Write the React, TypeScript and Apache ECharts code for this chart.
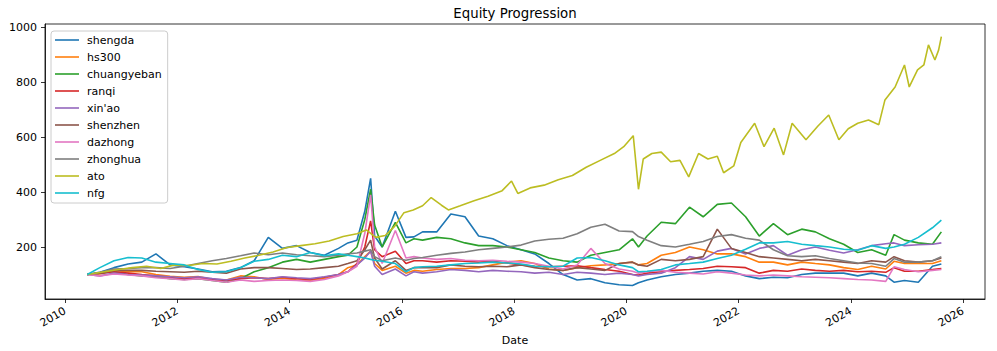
import React, { useEffect, useRef } from 'react';
import * as echarts from 'echarts';

const dates = ['2010-05-25','2010-08-15','2010-11-15','2011-02-15','2011-05-15','2011-08-15','2011-11-15','2012-02-15','2012-05-15','2012-08-15','2012-11-15','2013-02-15','2013-05-15','2013-08-15','2013-11-15','2014-02-15','2014-05-15','2014-08-15','2014-11-15','2015-01-15','2015-03-15','2015-05-05','2015-06-12','2015-07-08','2015-08-26','2015-11-20','2016-01-28','2016-03-20','2016-05-15','2016-08-15','2016-11-15','2017-02-15','2017-05-15','2017-08-15','2017-11-15','2018-02-15','2018-05-15','2018-08-15','2018-11-15','2019-02-15','2019-05-15','2019-08-15','2019-11-15','2020-02-10','2020-03-20','2020-05-15','2020-08-15','2020-11-15','2021-02-15','2021-05-15','2021-08-15','2021-11-15','2022-02-15','2022-05-15','2022-08-15','2022-11-15','2023-02-15','2023-05-15','2023-08-15','2023-11-15','2024-02-15','2024-05-15','2024-08-15','2024-10-08','2024-12-15','2025-03-15','2025-06-15','2025-08-12'];

const shengda = [100,108,125,138,145,175,135,128,120,110, 112,125,150,235,195,205,180,170,195,215, 225,330,450,240,200,330,235,237,255,255, 320,310,240,230,205,190,175,140,100,80, 85,70,63,60,70,80,92,100,105,112, 115,112,95,85,90,88,100,105,105,105, 95,105,95,72,78,72,130,138];
const hs300 = [100,102,115,110,110,100,94,90,93,83, 80,95,92,82,87,80,78,85,100,125, 135,165,185,140,115,130,105,115,112,118, 122,122,125,135,145,150,140,120,115,125, 132,135,140,145,135,140,170,180,200,190, 175,175,165,145,145,135,145,140,135,125, 118,130,120,148,140,140,140,150];
const chuangyeban = [100,105,110,100,95,92,85,82,85,78, 72,85,110,125,145,155,145,155,165,170, 200,300,410,280,200,290,215,230,225,235, 230,215,205,205,200,190,180,160,150,145, 170,180,190,230,200,240,290,285,345,310, 355,360,310,240,285,245,265,255,230,210, 180,190,170,245,225,215,210,255];
const ranqi = [100,105,110,105,100,95,90,85,88,82, 78,85,88,85,90,85,82,90,100,110, 140,200,295,190,165,185,140,150,150,145, 150,148,145,148,142,135,130,128,130,132, 125,118,112,100,98,105,110,115,118,122, 130,128,125,105,115,112,120,115,112,115, 110,112,108,125,112,112,118,122];
const xinao = [100,95,105,100,98,95,92,88,92,85, 80,90,88,85,92,88,85,92,100,110, 135,160,185,130,100,120,95,110,105,110, 118,115,110,115,112,110,105,108,100,108, 105,100,105,100,95,100,105,125,165,155, 185,195,175,195,205,170,190,200,188,178, 190,205,212,215,205,208,210,215];
const shenzhen = [100,105,115,115,115,112,110,108,112,108, 105,120,125,125,122,118,120,125,130,140, 150,190,225,160,120,150,115,125,125,125, 135,130,128,130,128,135,125,118,115,125, 120,115,140,145,135,130,155,150,155,165, 265,195,180,165,160,155,150,155,150,145, 140,150,145,165,150,145,150,160];
const dazhong = [100,95,102,98,95,88,85,80,85,78, 72,80,75,78,80,78,75,82,95,110, 130,250,390,200,140,260,160,165,160,155, 158,152,150,152,148,145,140,130,120,135, 195,140,120,112,105,110,115,108,105,102, 110,105,98,95,98,95,92,90,88,85, 82,80,75,128,118,110,115,118];
const zhonghua = [100,108,120,122,125,125,122,130,140,150, 158,168,178,172,178,172,168,165,170,175, 178,185,190,165,150,160,152,158,162,170, 177,182,190,195,200,207,222,228,232,248, 272,283,258,256,238,225,205,200,210,220, 238,245,232,225,190,168,165,168,158,150, 142,140,130,158,145,145,150,165];
const nfg = [100,125,150,162,160,145,140,135,118,108, 110,125,148,155,170,165,180,168,175,170, 165,160,155,152,148,140,110,125,128,130, 135,140,142,145,142,138,130,128,130,160, 162,150,135,125,110,112,118,135,140,145, 158,170,192,215,215,220,210,205,200,192, 188,205,195,200,210,235,270,298];

const atoDates = ['2010-05-25','2010-09-15','2010-12-15','2011-03-15','2011-06-15','2011-09-15','2011-12-15','2012-03-15','2012-06-15','2012-09-15','2012-12-15','2013-03-15','2013-06-15','2013-09-15','2013-12-15','2014-03-15','2014-06-15','2014-09-15','2014-12-15','2015-03-15','2015-05-15','2015-07-15','2015-09-15','2015-11-15','2016-01-15','2016-03-15','2016-05-15','2016-07-10','2016-09-15','2016-10-30','2017-01-15','2017-04-15','2017-07-15','2017-10-15','2017-12-15','2018-01-25','2018-04-15','2018-07-15','2018-10-15','2019-01-15','2019-04-15','2019-07-15','2019-10-15','2019-12-15','2020-02-15','2020-03-20','2020-04-20','2020-06-15','2020-08-15','2020-10-15','2020-12-15','2021-02-10','2021-04-15','2021-06-15','2021-08-15','2021-09-25','2021-11-30','2022-01-15','2022-04-15','2022-06-15','2022-08-20','2022-10-20','2022-12-15','2023-03-15','2023-06-01','2023-08-10','2023-10-15','2023-12-15','2024-02-15','2024-04-25','2024-07-01','2024-08-10','2024-10-15','2024-12-15','2025-01-15','2025-03-10','2025-04-20','2025-05-20','2025-07-01','2025-07-25','2025-08-12'];
const ato = [100,110,118,125,130,122,135,133,140,138, 148,160,170,182,198,205,212,222,238,248, 262,235,242,275,325,335,350,380,352,335, 350,368,385,405,440,395,415,425,445,460, 490,515,540,565,605,410,520,540,545,510, 515,455,540,520,530,470,495,580,650,565, 632,535,650,590,640,680,590,630,650,662, 645,735,782,862,782,844,862,935,880,916, 965];

const seriesNames = ['shengda','hs300','chuangyeban','ranqi',"xin'ao",'shenzhen','dazhong','zhonghua','ato','nfg'];
const seriesColors = ['#1f77b4','#ff7f0e','#2ca02c','#d62728','#9467bd','#8c564b','#e377c2','#7f7f7f','#bcbd22','#17becf'];
const yTicks = [200, 400, 600, 800, 1000];
const xTickYears = [2010, 2012, 2014, 2016, 2018, 2020, 2022, 2024, 2026];

const toTs = (s: string) => {
  const [y, m, d] = s.split('-').map(Number);
  return Date.UTC(y, m - 1, d);
};

const FONT = 'DejaVu Sans';

export default function App() {
  const ref = useRef<HTMLDivElement>(null);
  useEffect(() => {
    document.body.style.margin = '0';
    const chart = echarts.init(ref.current!, null, { renderer: 'svg' });
    const values = [shengda, hs300, chuangyeban, ranqi, xinao, shenzhen, dazhong, zhonghua, ato, nfg];
    const series = seriesNames.map((name, i) => {
      const ds = name === 'ato' ? atoDates : dates;
      return {
        name,
        type: 'line',
        showSymbol: false,
        symbol: 'none',
        color: seriesColors[i],
        lineStyle: { width: 1.6, color: seriesColors[i] },
        data: ds.map((d, j) => [toTs(d), values[i][j]]),
      };
    });
    const xTickVals = xTickYears.map((y) => Date.UTC(y, 0, 1));
    chart.setOption({
      animation: false,
      textStyle: { fontFamily: FONT },
      grid: { left: 45, right: 12, top: 24, bottom: 52, show: true, borderColor: '#000', borderWidth: 0.8, backgroundColor: 'transparent' },
      legend: {
        orient: 'vertical',
        left: 51,
        top: 31,
        icon: 'rect',
        itemWidth: 24,
        itemHeight: 1.6,
        itemGap: 3,
        padding: [2, 6, 3, 4],
        backgroundColor: 'rgba(255,255,255,0.8)',
        borderColor: '#cccccc',
        borderWidth: 1,
        borderRadius: 3,
        textStyle: { fontFamily: FONT, fontSize: 11, color: '#000', lineHeight: 14, padding: [0, 0, 0, 3] },
        data: seriesNames,
      },
      xAxis: {
        type: 'value',
        min: Date.UTC(2009, 7, 23),
        max: Date.UTC(2026, 4, 23),
        splitLine: { show: false },
        axisLine: { show: true, lineStyle: { color: '#000', width: 0.8 } },
        axisTick: { show: true, length: 4, lineStyle: { color: '#000', width: 0.8 }, customValues: xTickVals },
        axisLabel: {
          customValues: xTickVals,
          rotate: 30,
          margin: 11,
          fontSize: 11,
          color: '#000',
          fontFamily: FONT,
          formatter: (v: number) => String(new Date(v).getUTCFullYear()),
        },
      },
      yAxis: {
        type: 'value',
        min: 11,
        max: 1011,
        splitLine: { show: false },
        axisLine: { show: true, lineStyle: { color: '#000', width: 0.8 } },
        axisTick: { show: true, length: 4, lineStyle: { color: '#000', width: 0.8 }, customValues: yTicks },
        axisLabel: { customValues: yTicks, margin: 8, fontSize: 11, color: '#000', fontFamily: FONT, formatter: (v: number) => String(v) },
      },
      graphic: [
        { type: 'text', x: 515, y: 13.5, style: { text: 'Equity Progression', fontSize: 13.3, fontFamily: FONT, fill: '#000', textAlign: 'center', textVerticalAlign: 'middle' } },
        { type: 'text', x: 515, y: 340, style: { text: 'Date', fontSize: 11, fontFamily: FONT, fill: '#000', textAlign: 'center', textVerticalAlign: 'middle' } },
      ],
      series,
    });
    return () => chart.dispose();
  }, []);
  return <div ref={ref} style={{ width: 997, height: 351 }} />;
}
